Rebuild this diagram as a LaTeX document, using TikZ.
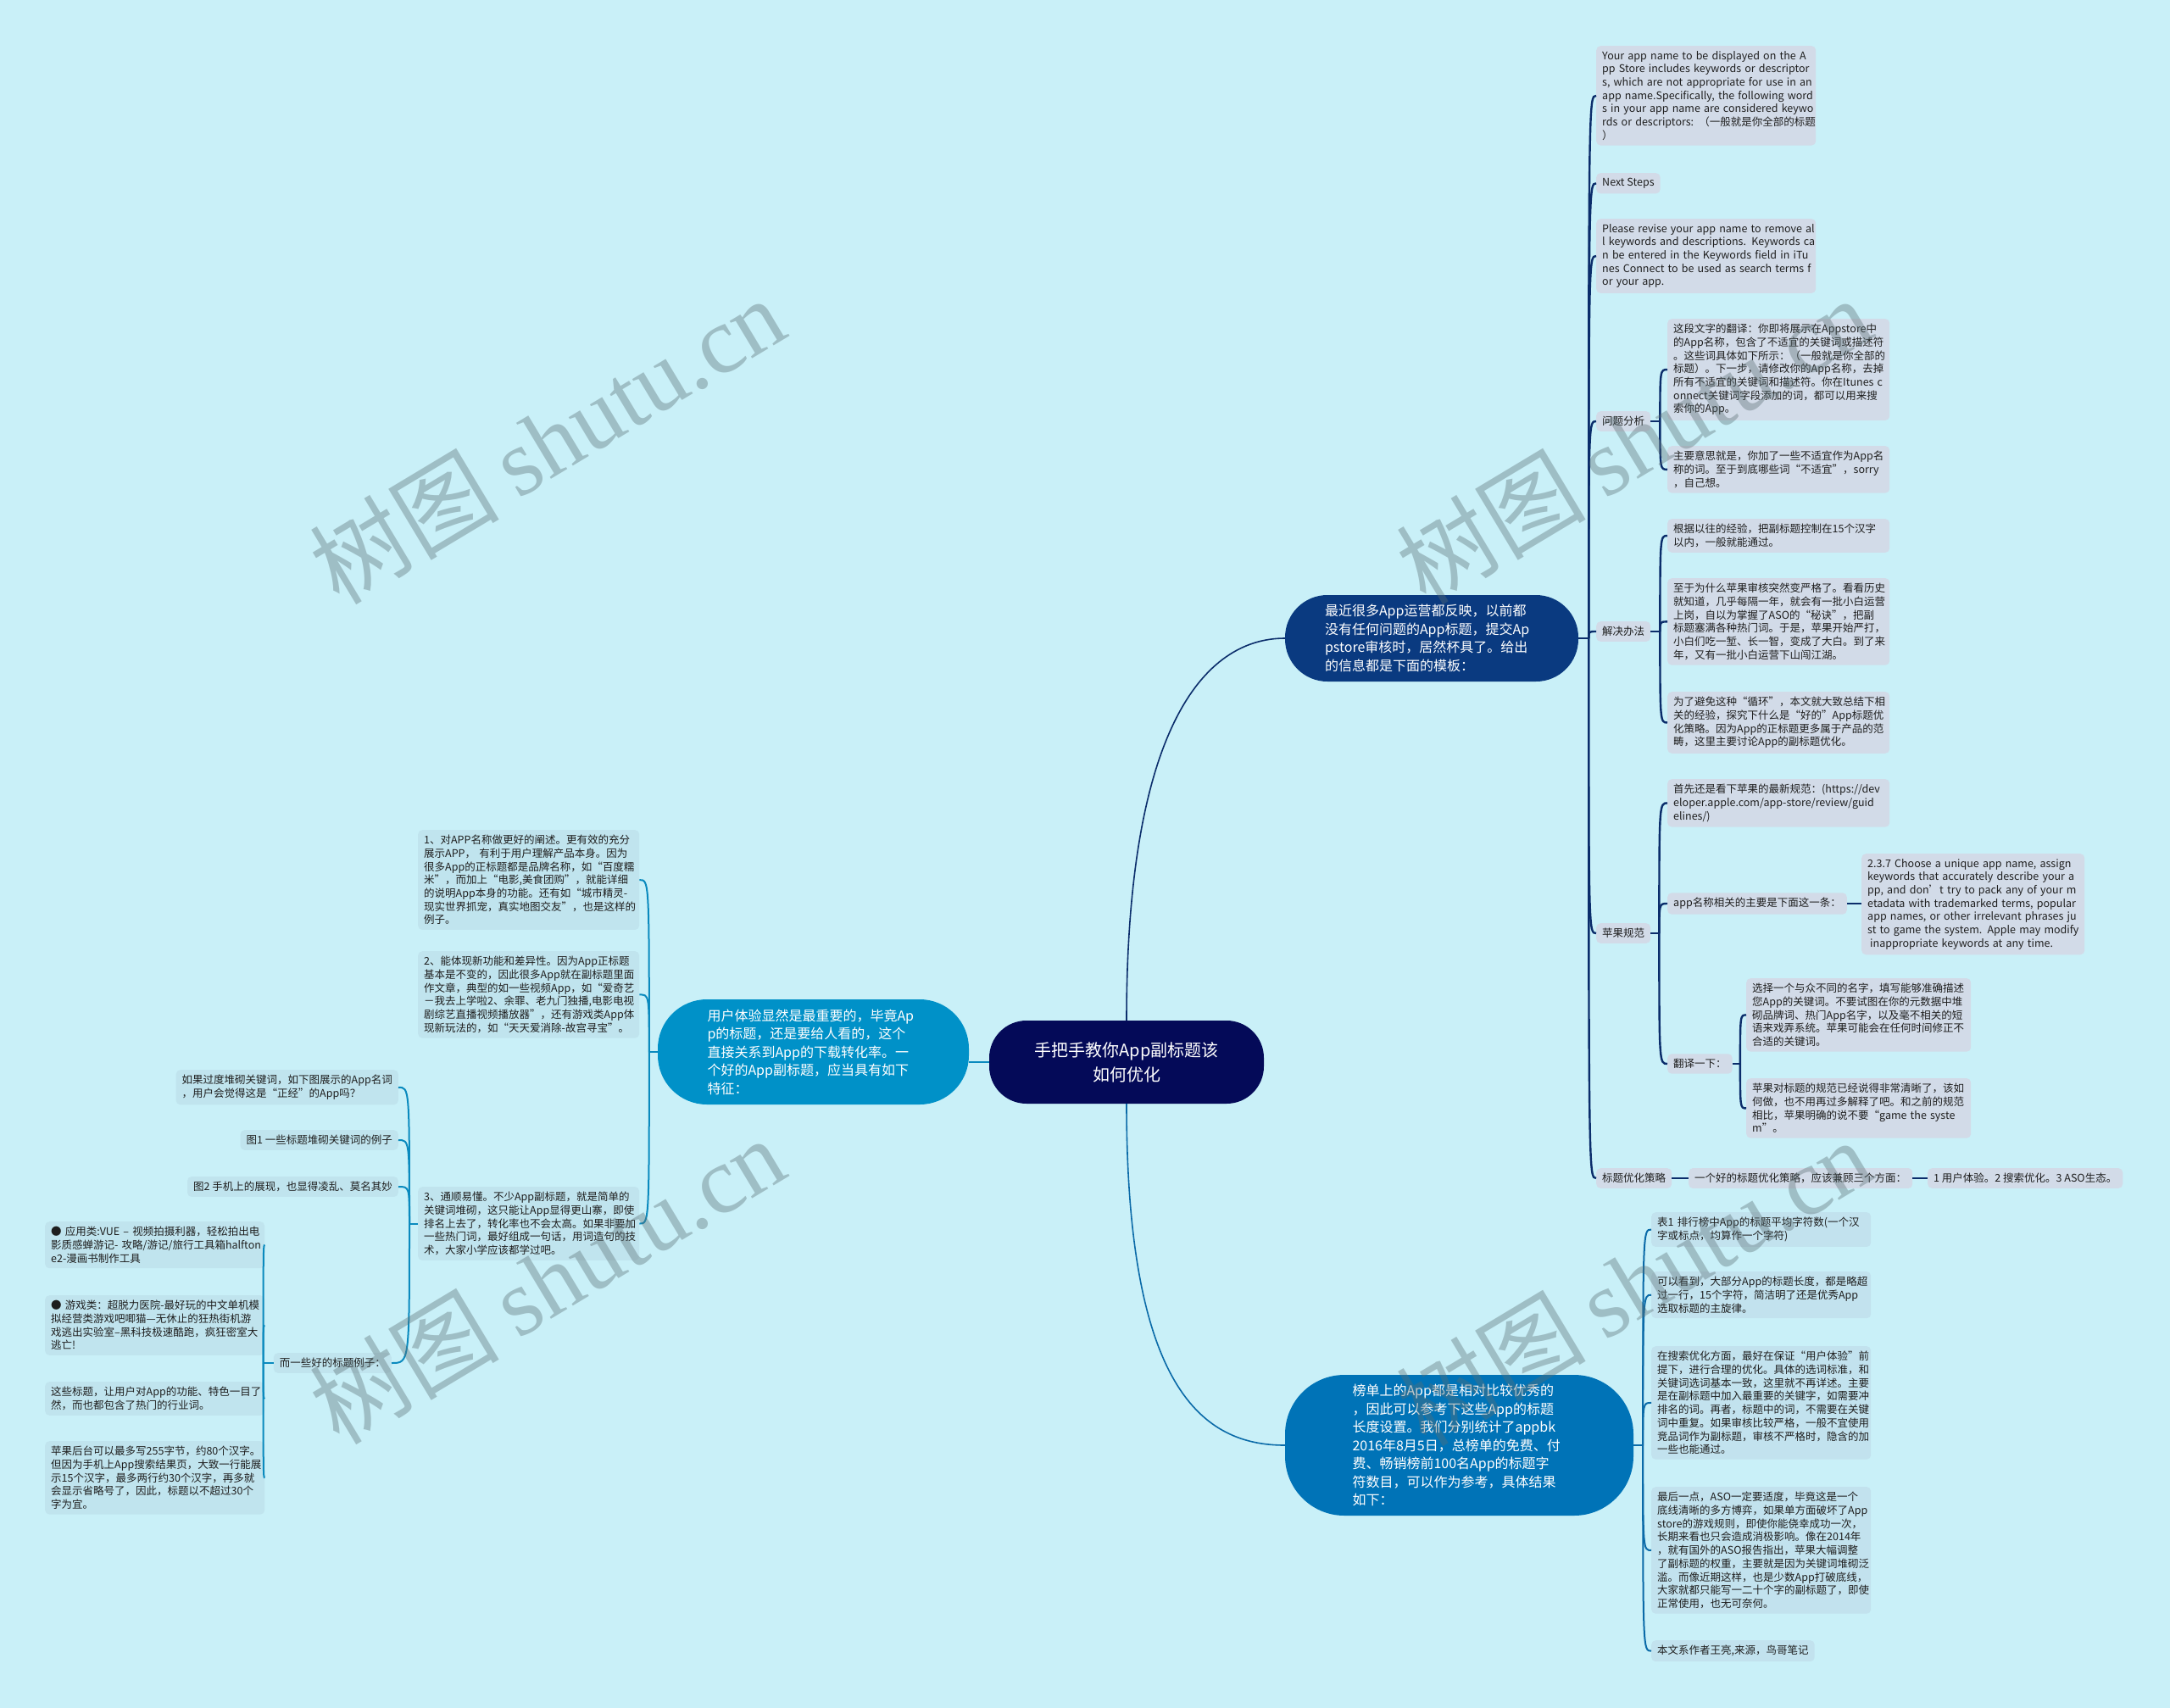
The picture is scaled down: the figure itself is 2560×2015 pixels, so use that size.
\documentclass[tikz,border=0pt]{standalone}
\usepackage{fontspec}
\setmainfont{Noto Sans CJK SC}
\newfontfamily\wmlat{Liberation Serif}
\newcommand\lf{\fontsize{12.5}{15.7}\selectfont}
\newcommand\mf{\fontsize{16}{21.5}\selectfont}
\newcommand\rf{\fontsize{20}{29}\selectfont}
\definecolor{bgc}{RGB}{201,240,248}
\definecolor{txt}{RGB}{30,30,30}
\definecolor{rootc}{RGB}{4,10,88}
\definecolor{trc}{RGB}{10,58,128}
\definecolor{brc}{RGB}{0,115,183}
\definecolor{lnc}{RGB}{0,145,200}
\definecolor{trfill}{RGB}{210,219,232}
\definecolor{brfill}{RGB}{194,226,238}
\definecolor{lfill}{RGB}{192,228,238}
\definecolor{trline}{RGB}{11,45,107}
\definecolor{brline}{RGB}{10,106,168}
\definecolor{lline}{RGB}{10,138,190}
\definecolor{wmc}{RGB}{90,110,115}
\begin{document}
\begin{tikzpicture}[x=1pt,y=-1pt,
  leaf/.style={rounded corners=5pt, inner xsep=7pt, inner ysep=6pt, align=left, font=\lf, text=txt},
  trleaf/.style={leaf, fill=trfill},
  brleaf/.style={leaf, fill=brfill},
  lleaf/.style={leaf, fill=lfill},
  big/.style={text=white, font=\mf, align=left, inner sep=0pt},
  trl/.style={draw=trline, line width=2.4pt},
  brl/.style={draw=brline, line width=2pt},
  ll/.style={draw=lline, line width=2pt},
  rl/.style={line width=1.6pt},
  wm/.style={text=wmc, opacity=0.38, rotate=31, inner sep=0pt}]
\fill[bgc] (0,0) rectangle (2560,2015);

% ---------- main nodes ----------
\node[fill=rootc, rounded corners=44pt, minimum width=324pt, minimum height=98pt, text=white, font=\rf, align=center, inner sep=0pt] (root) at (1329,1253) {手把手教你App副标题该\\如何优化};
\node[big, fill=trc, rounded corners=50pt, minimum width=346pt, minimum height=102pt, text width=252pt] (tr) at (1689,753) {最近很多App运营都反映，以前都\\没有任何问题的App标题，提交Ap\\pstore审核时，居然杯具了。给出\\的信息都是下面的模板：};
\node[big, fill=brc, rounded corners=70pt, minimum width=411pt, minimum height=166pt, text width=252pt] (br) at (1721.5,1705) {榜单上的App都是相对比较优秀的\\，因此可以参考下这些App的标题\\长度设置。我们分别统计了appbk\\2016年8月5日，总榜单的免费、付\\费、畅销榜前100名App的标题字\\符数目，可以作为参考，具体结果\\如下：};
\node[big, fill=lnc, rounded corners=58pt, minimum width=367pt, minimum height=124pt, text width=250pt] (ln) at (959.5,1241) {用户体验显然是最重要的，毕竟Ap\\p的标题，还是要给人看的，这个\\直接关系到App的下载转化率。一\\个好的App副标题，应当具有如下\\特征：};

% ---------- top-right leaves ----------
\node[trleaf, text width=245pt, anchor=north west] (ya) at (1883,54) {\mbox{Your app name to be displayed on the A}\\\mbox{pp Store includes keywords or descriptor}\\\mbox{s, which are not appropriate for use in an}\\\mbox{app name.Specifically, the following word}\\\mbox{s in your app name are considered keywo}\\\mbox{rds or descriptors: （一般就是你全部的标题}\\）};
\node[trleaf, anchor=north west] (ns) at (1883,204) {Next Steps};
\node[trleaf, text width=245pt, anchor=north west] (pr) at (1883,258) {\mbox{Please revise your app name to remove al}\\\mbox{l keywords and descriptions. Keywords ca}\\\mbox{n be entered in the Keywords field in iTu}\\\mbox{nes Connect to be used as search terms f}\\\mbox{or your app.}};
\node[trleaf, anchor=west] (wt) at (1883,497) {问题分析};
\node[trleaf, text width=248pt, anchor=north west] (wt1) at (1967,376) {这段文字的翻译：你即将展示在Appstore中\\的App名称，包含了不适宜的关键词或描述符\\。这些词具体如下所示：（一般就是你全部的\\标题）。下一步，请修改你的App名称，去掉\\所有不适宜的关键词和描述符。你在\mbox{Itunes c}\\onnect关键词字段添加的词，都可以用来搜\\索你的App。};
\node[trleaf, text width=248pt, anchor=north west] (wt2) at (1967,526) {主要意思就是，你加了一些不适宜作为App名\\称的词。至于到底哪些词“不适宜”，sorry\\，自己想。};
\node[trleaf, anchor=west] (jj) at (1883,745) {解决办法};
\node[trleaf, text width=248pt, anchor=north west] (jj1) at (1967,612) {根据以往的经验，把副标题控制在15个汉字\\以内，一般就能通过。};
\node[trleaf, text width=248pt, anchor=north west] (jj2) at (1967,682) {至于为什么苹果审核突然变严格了。看看历史\\就知道，几乎每隔一年，就会有一批小白运营\\上岗，自以为掌握了ASO的“秘诀”，把副\\标题塞满各种热门词。于是，苹果开始严打，\\小白们吃一堑、长一智，变成了大白。到了来\\年，又有一批小白运营下山闯江湖。};
\node[trleaf, text width=248pt, anchor=north west] (jj3) at (1967,816) {为了避免这种“循环”，本文就大致总结下相\\关的经验，探究下什么是“好的”App标题优\\化策略。因为App的正标题更多属于产品的范\\畴，这里主要讨论App的副标题优化。};
\node[trleaf, anchor=west] (pg) at (1883,1101) {苹果规范};
\node[trleaf, text width=248pt, anchor=north west] (pg1) at (1967,919) {首先还是看下苹果的最新规范：(https://dev\\eloper.apple.com/app-store/review/guid\\elines/)};
\node[trleaf, anchor=west] (pg2) at (1967,1066) {app名称相关的主要是下面这一条：};
\node[trleaf, text width=249pt, anchor=north west] (pg2a) at (2196,1007) {\mbox{2.3.7 Choose a unique app name, assign}\\\mbox{keywords that accurately describe your a}\\\mbox{pp, and don’t try to pack any of your m}\\\mbox{etadata with trademarked terms, popular}\\\mbox{app names, or other irrelevant phrases ju}\\\mbox{st to game the system. Apple may modify}\\\mbox{\hspace{3pt}inappropriate keywords at any time.}};
\node[trleaf, anchor=west] (pg3) at (1967,1255) {翻译一下：};
\node[trleaf, text width=251pt, anchor=north west] (pg3a) at (2060,1154) {选择一个与众不同的名字，填写能够准确描述\\您App的关键词。不要试图在你的元数据中堆\\砌品牌词、热门App名字，以及毫不相关的短\\语来戏弄系统。苹果可能会在任何时间修正不\\合适的关键词。};
\node[trleaf, text width=251pt, anchor=north west] (pg3b) at (2060,1272) {苹果对标题的规范已经说得非常清晰了，该如\\何做，也不用再过多解释了吧。和之前的规范\\相比，苹果明确的说不要\mbox{“game the syste}\\m”。};
\node[trleaf, anchor=west] (bt) at (1883,1390) {标题优化策略};
\node[trleaf, anchor=west] (bt1) at (1992,1390) {一个好的标题优化策略，应该兼顾三个方面：};
\node[trleaf, anchor=west] (bt2) at (2274,1390) {\mbox{1 用户体验。2 搜索优化。3 ASO生态。}};

% ---------- bottom-right leaves ----------
\node[brleaf, text width=245pt, anchor=north west] (b1) at (1948,1430) {\mbox{表1 排行榜中App的标题平均字符数(一个汉}\\字或标点，均算作一个字符)};
\node[brleaf, text width=245pt, anchor=north west] (b2) at (1948,1500) {可以看到，大部分App的标题长度，都是略超\\过一行，15个字符，简洁明了还是优秀App\\选取标题的主旋律。};
\node[brleaf, text width=245pt, anchor=north west] (b3) at (1948,1588) {在搜索优化方面，最好在保证“用户体验”前\\提下，进行合理的优化。具体的选词标准，和\\关键词选词基本一致，这里就不再详述。主要\\是在副标题中加入最重要的关键字，如需要冲\\排名的词。再者，标题中的词，不需要在关键\\词中重复。如果审核比较严格，一般不宜使用\\竞品词作为副标题，审核不严格时，隐含的加\\一些也能通过。};
\node[brleaf, text width=245pt, anchor=north west] (b4) at (1948,1754) {最后一点，ASO一定要适度，毕竟这是一个\\底线清晰的多方博弈，如果单方面破坏了App\\store的游戏规则，即使你能侥幸成功一次，\\长期来看也只会造成消极影响。像在2014年\\，就有国外的ASO报告指出，苹果大幅调整\\了副标题的权重，主要就是因为关键词堆砌泛\\滥。而像近期这样，也是少数App打破底线，\\大家就都只能写一二十个字的副标题了，即使\\正常使用，也无可奈何。};
\node[brleaf, anchor=north west] (b5) at (1948,1935) {本文系作者王亮,来源，鸟哥笔记};

% ---------- left leaves ----------
\node[lleaf, text width=247pt, anchor=north west] (l1) at (493,979) {1、对APP名称做更好的阐述。更有效的充分\\\mbox{展示APP， 有利于用户理解产品本身。因为}\\很多App的正标题都是品牌名称，如“百度糯\\米”，而加上“电影,美食团购”，就能详细\\的说明App本身的功能。还有如“城市精灵-\\现实世界抓宠，真实地图交友”，也是这样的\\例子。};
\node[lleaf, text width=247pt, anchor=north west] (l2) at (493,1122) {2、能体现新功能和差异性。因为App正标题\\基本是不变的，因此很多App就在副标题里面\\作文章，典型的如一些视频App，如“爱奇艺\\－我去上学啦2、余罪、老九门独播,电影电视\\剧综艺直播视频播放器”，还有游戏类App体\\现新玩法的，如“天天爱消除-故宫寻宝”。};
\node[lleaf, text width=247pt, anchor=north west] (l3) at (493,1400) {3、通顺易懂。不少App副标题，就是简单的\\关键词堆砌，这只能让App显得更山寨，即使\\排名上去了，转化率也不会太高。如果非要加\\一些热门词，最好组成一句话，用词造句的技\\术，大家小学应该都学过吧。};
\node[lleaf, anchor=north east] (l3a) at (470,1262) {如果过度堆砌关键词，如下图展示的App名词\\，用户会觉得这是“正经”的App吗？};
\node[lleaf, anchor=east] (l3b) at (470,1345) {\mbox{图1 一些标题堆砌关键词的例子}};
\node[lleaf, anchor=east] (l3c) at (470,1400) {\mbox{图2 手机上的展现，也显得凌乱、莫名其妙}};
\node[lleaf, anchor=east] (l3d) at (462,1608) {而一些好的标题例子：};
\node[lleaf, text width=245pt, anchor=north west] (l4a) at (53,1441) {\mbox{● 应用类:VUE – 视频拍摄利器，轻松拍出电}\\\mbox{影质感蝉游记- 攻略/游记/旅行工具箱halfton}\\e2-漫画书制作工具};
\node[lleaf, text width=245pt, anchor=north west] (l4b) at (53,1528) {\mbox{● 游戏类：超脱力医院-最好玩的中文单机模}\\拟经营类游戏吧唧猫—无休止的狂热街机游\\戏逃出实验室–黑科技极速酷跑，疯狂密室大\\逃亡!};
\node[lleaf, text width=245pt, anchor=north west] (l4c) at (53,1630) {这些标题，让用户对App的功能、特色一目了\\然，而也都包含了热门的行业词。};
\node[lleaf, text width=245pt, anchor=north west] (l4d) at (53,1700) {苹果后台可以最多写255字节，约80个汉字。\\但因为手机上App搜索结果页，大致一行能展\\示15个汉字，最多两行约30个汉字，再多就\\会显示省略号了，因此，标题以不超过30个\\字为宜。};

% ---------- root connectors ----------
\draw[rl, draw=trline] (root.north) .. controls (1329,860) and (1420,753) .. (tr.west);
\draw[rl, draw=brline] (root.south) .. controls (1329,1640) and (1420,1705) .. (br.west);
\draw[rl, draw=lline] (root.west) -- (root.west -| ln.east);

% ---------- top-right tree ----------
\coordinate (jtr) at ([xshift=12pt]tr.east);
\draw[trl] (tr.east) -- (jtr);
\foreach \c in {ya,ns,pr,wt,jj,pg,bt} \draw[trl] (jtr) .. controls (jtr |- \c.west) .. (\c.west);
\coordinate (jwt) at ([xshift=11pt]wt.east);
\draw[trl] (wt.east) -- (jwt);
\foreach \c in {wt1,wt2} \draw[trl] (jwt) .. controls (jwt |- \c.west) .. (\c.west);
\coordinate (jjj) at ([xshift=11pt]jj.east);
\draw[trl] (jj.east) -- (jjj);
\foreach \c in {jj1,jj2,jj3} \draw[trl] (jjj) .. controls (jjj |- \c.west) .. (\c.west);
\coordinate (jpg) at ([xshift=10pt]pg.east);
\draw[trl] (pg.east) -- (jpg);
\foreach \c in {pg1,pg2,pg3} \draw[trl] (jpg) .. controls (jpg |- \c.west) .. (\c.west);
\draw[trl] (pg2.east) -- (pg2.east -| pg2a.west);
\coordinate (jpg3) at ([xshift=9pt]pg3.east);
\draw[trl] (pg3.east) -- (jpg3);
\foreach \c in {pg3a,pg3b} \draw[trl] (jpg3) .. controls (jpg3 |- \c.west) .. (\c.west);
\draw[trl] (bt.east) -- (bt1.west);
\draw[trl] (bt1.east) -- (bt2.west);

% ---------- bottom-right tree ----------
\coordinate (jbr) at ([xshift=11pt]br.east);
\draw[brl] (br.east) -- (jbr);
\foreach \c in {b1,b2,b3,b4,b5} \draw[brl] (jbr) .. controls (jbr |- \c.west) .. (\c.west);

% ---------- left tree ----------
\coordinate (jln) at ([xshift=-10pt]ln.west);
\draw[ll] (ln.west) -- (jln);
\foreach \c in {l1,l2,l3} \draw[ll] (jln) .. controls (jln |- \c.east) .. (\c.east);
\coordinate (jl3) at ([xshift=-10pt]l3.west);
\draw[ll] (l3.west) -- (jl3);
\foreach \c in {l3a,l3b,l3c,l3d} \draw[ll] (jl3) .. controls (jl3 |- \c.east) .. (\c.east);
\coordinate (jl4) at ([xshift=-12pt]l3d.west);
\draw[ll] (l3d.west) -- (jl4);
\foreach \c in {l4a,l4b,l4c,l4d} \draw[ll] (jl4) .. controls (jl4 |- \c.east) .. (\c.east);

% ---------- watermarks ----------
\foreach \p in {(645,519),(1927,519),(645,1510),(1927,1512)}
  \node[wm] at \p {\fontsize{112}{112}\selectfont 树图\hspace{22pt}{\wmlat shutu.cn}};
\end{tikzpicture}
\end{document}
